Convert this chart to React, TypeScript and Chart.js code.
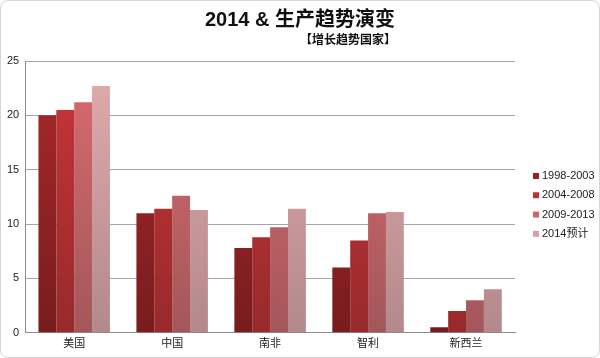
import React, { useEffect, useRef } from "react";
import { Chart, registerables } from "chart.js";

Chart.register(...registerables);

const categories = ["美国", "中国", "南非", "智利", "新西兰"];
const seriesNames = ["1998-2003", "2004-2008", "2009-2013", "2014预计"];
const s1998 = [20, 11, 7.8, 6, 0.5];
const s2004 = [20.5, 11.4, 8.8, 8.5, 2];
const s2009 = [21.2, 12.6, 9.7, 11, 3];
const s2014 = [22.7, 11.3, 11.4, 11.1, 4];
const yTicks = [0, 5, 10, 15, 20, 25];

const topColors = ["#a9292b", "#c83538", "#da6b6e", "#e1abad"];
const bottomColors = ["#781c1e", "#982a2c", "#a3575b", "#b3898c"];
const legendColors = ["#9a2123", "#bf2f31", "#d06469", "#d9a2a6"];

const FONT = "'Liberation Sans', 'Noto Sans CJK SC', sans-serif";

export default function App() {
  const ref = useRef<HTMLCanvasElement>(null);
  useEffect(() => {
    const canvas = ref.current!;
    const mk = (i: number) => (ctx: any) => {
      const chart = ctx.chart;
      const area = chart.chartArea;
      if (!area) return topColors[i];
      const g = chart.ctx.createLinearGradient(0, area.top, 0, area.bottom);
      g.addColorStop(0, topColors[i]);
      g.addColorStop(1, bottomColors[i]);
      return g;
    };
    const data = [s1998, s2004, s2009, s2014];
    const decorPlugin = {
      id: "decor",
      afterDraw(chart: any) {
        const c = chart.ctx;
        const area = chart.chartArea;
        c.save();
        c.fillStyle = "#111";
        c.textBaseline = "alphabetic";
        c.textAlign = "center";
        c.font = `bold 20px 'Liberation Sans Narrow', 'Liberation Sans', 'Noto Sans CJK SC', sans-serif`;
        const t = "2014 & 生产趋势演变";
        const tw = c.measureText(t).width;
        const cx = 299;
        c.fillText(t, cx, 25);
        c.textAlign = "right";
        c.font = `bold 12px 'Noto Sans CJK SC', sans-serif`;
        c.fillText("【增长趋势国家】", cx + tw / 2 + 1, 43);
        // legend
        const lx = area.right + 18;
        const midY = (area.top + area.bottom) / 2;
        const step = 19.3;
        const y0 = midY + 8 - 1.5 * step;
        c.textAlign = "left";
        c.textBaseline = "middle";
        c.font = `11px ${FONT}`;
        seriesNames.forEach((n, i) => {
          const y = y0 + i * step;
          c.fillStyle = legendColors[i];
          c.fillRect(lx, y - 3, 6, 6);
          c.fillStyle = "#222";
          c.fillText(n, lx + 9, y);
        });
        c.restore();
      },
    };
    const chart = new Chart(canvas, {
      type: "bar",
      data: {
        labels: categories,
        datasets: data.map((d, i) => ({
          label: seriesNames[i],
          data: d,
          backgroundColor: mk(i),
          borderWidth: 0,
          barPercentage: 1,
          categoryPercentage: 0.73,
        })),
      },
      options: {
        animation: false,
        responsive: false,
        layout: { padding: { top: 60, right: 84, left: 0, bottom: 1 } },
        plugins: {
          title: { display: false },
          tooltip: { enabled: false },
          legend: { display: false },
        },
        scales: {
          x: {
            grid: { display: false, drawTicks: false },
            border: { color: "#8c8c8c", width: 1 },
            ticks: { color: "#222", font: { family: FONT, size: 11 }, padding: 5 },
          },
          y: {
            min: 0,
            max: 25,
            afterBuildTicks: (s: any) => {
              s.ticks = yTicks.map((v) => ({ value: v }));
            },
            grid: { color: "#a6a6a6", drawTicks: false },
            border: { color: "#8c8c8c", width: 1 },
            ticks: { color: "#222", font: { family: FONT, size: 11 }, padding: 6 },
          },
        },
      },
      plugins: [decorPlugin],
    });
    return () => chart.destroy();
  }, []);
  return (
    <div
      style={{
        position: "fixed",
        left: 0,
        top: 0,
        width: 600,
        height: 358,
        background: "#fff",
        border: "1px solid #d6d6d6",
        borderRadius: 8,
        boxSizing: "border-box",
        overflow: "hidden",
      }}
    >
      <canvas ref={ref} width={598} height={356} style={{ display: "block" }} />
    </div>
  );
}
